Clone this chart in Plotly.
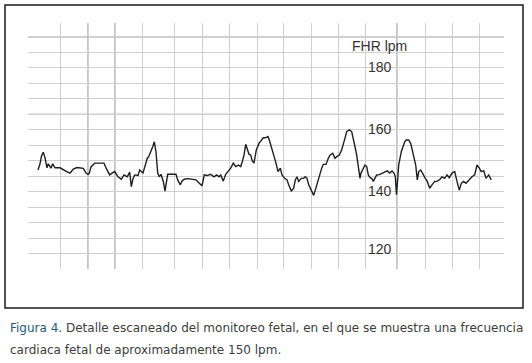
import plotly.graph_objects as go

# Fetal heart rate strip (time in s along the strip, FHR in bpm)
time_s = [38, 40, 41.5, 43.3, 45, 47, 48.3, 51, 52.7, 55, 60, 63.3, 66.7, 70, 73.3, 77, 83.3, 86, 88, 89.3,
          91, 94.7, 99, 104, 106.3, 109.7, 112, 114.7, 118, 121.3, 124, 127.3, 129.7, 131.3, 133, 134.7, 138, 139.7,
          143, 145.3, 147.3, 148.7, 151, 152.7, 154.3, 156, 157.7, 159.3, 161, 163.3, 165, 166.7, 167.7, 172, 176,
          177.7, 180.3, 182, 184.3, 188, 192.7, 196, 199.3, 202, 204.3, 207.3, 210.7, 214, 216.7, 219, 220.7, 223.3,
          225.7, 228, 230.7, 233.3, 235.7, 238.3, 240.7, 242.3, 244, 245.7, 247.3, 249, 250.7, 252.3, 254, 256.3,
          259, 261.3, 263.3, 265.3, 268, 269.3, 271.3, 273.7, 276, 278, 280.3, 282, 284.7, 287, 288.7, 291.3, 293.7,
          295.3, 297, 298.7, 301.3, 303.7, 305.3, 307, 308.7, 310.3, 312, 313.7, 315.3, 317, 319.3, 321.7, 323.3,
          326, 328.3, 330, 332.7, 335, 336.7, 339.3, 341.7, 343.3, 345, 346.7, 349.3, 351.7, 353.3, 355, 356.7,
          358.3, 360, 361, 362.7, 365, 366.7, 368.3, 370, 371.7, 373.3, 375, 376.7, 379.3, 382, 384.7, 387.3, 389.7,
          392, 394, 395.3, 396.5, 397.2, 398, 398.7, 399.7, 401.3, 403, 404.7, 406.3, 408.7, 410.7, 412.3, 414,
          415.7, 417.3, 418.7, 420.7, 423, 425.3, 427.3, 429.7, 432, 434.7, 437.3, 440, 442, 444.7, 447, 449.3, 452,
          454.7, 457, 459.3, 461.3, 463.7, 466, 468.7, 472, 474.7, 477, 479.3, 481.3, 483.7, 486, 488.7, 491.3]
fhr_bpm = [147, 149, 151.5, 152.7, 151, 147.7, 149, 147.6, 149, 147.7, 147.7, 147, 146.5, 146, 147.3, 147.8, 147.5,
           146, 145.6, 146, 148, 149.2, 149.3, 149.2, 147.5, 145.4, 146, 146.5, 144.8, 144, 145.4, 144.8, 146.3,
           141.6, 144.2, 145.4, 145.2, 147, 146, 148.6, 150.8, 151.3, 152.9, 154.5, 156.1, 152.9, 146, 144.8, 145.6,
           143.3, 140.2, 143.3, 145.6, 145.6, 145.6, 143.8, 142.2, 143.4, 144, 144.2, 144, 143.8, 142.7, 141.9,
           145.4, 145.2, 145.6, 144.8, 145.4, 144.8, 145.4, 143.4, 145.6, 146.5, 147.6, 149.2, 148.1, 148.6, 148.1,
           149.7, 151.8, 155.3, 153.8, 152.1, 151.8, 149.9, 149.2, 153.5, 155.6, 156.7, 157.4, 157.4, 157.8, 156.7,
           154, 151.8, 149.2, 146.5, 147.6, 145.4, 144.3, 143.8, 142.2, 140.2, 141.1, 143.8, 144.8, 143.3, 144.3,
           144.3, 144.8, 144.3, 142.2, 141.1, 140, 138.8, 140.5, 142.3, 145.4, 147.6, 148.8, 148.8, 150.8, 151.8,
           152.4, 150.8, 151.3, 151.8, 153.5, 155.1, 157.3, 159.4, 160, 159.4, 157.3, 154.5, 151.8, 148.1, 144.3,
           146, 147, 148.6, 148.1, 145.4, 144.5, 144.3, 143.3, 144.5, 145.4, 145.5, 146, 146.5, 146.7, 146, 146.7,
           146, 144.8, 139, 141, 145.4, 148.6, 150.8, 152.9, 154.5, 156.1, 156.7, 156.7, 155.6, 153.5, 150.8, 148.6,
           143.8, 146.5, 147, 145.4, 144.3, 143.3, 141.1, 142.2, 143.3, 143.4, 144, 144.8, 144.3, 145.4, 144.5, 146,
           146.5, 143.3, 140.5, 142.7, 143.3, 142.7, 143.8, 144.8, 145.4, 148.6, 147.6, 146.5, 146.8, 144.3, 145.4,
           143.8]

# Grid of the monitor paper
h_grid_bpm = [115, 120, 125, 130, 135, 140, 145, 150, 155, 160, 165, 170, 175, 180, 185, 190]
h_grid_dark = [165, 190]
v_grid_s = [60, 88, 115, 142, 174, 202, 229, 257, 283, 311, 338, 365, 397, 425, 452, 479]
v_grid_dark = [88, 115, 397]
scale_labels = [180, 160, 140, 120]
axis_title = "FHR lpm"
caption_bold = "Figura 4"
caption_line1 = ". Detalle escaneado del monitoreo fetal, en el que se muestra una frecuencia"
caption_line2 = "cardiaca fetal de aproximadamente 150 lpm."

fig = go.Figure()
fig.add_trace(go.Scatter(x=time_s, y=fhr_bpm, mode="lines",
                         line=dict(color="#1e1e1e", width=1.4), hoverinfo="skip"))

shapes = []
for v in v_grid_dark:
    shapes.append(dict(type="line", xref="x", yref="paper", x0=v, x1=v, y0=0, y1=1,
                       line=dict(color="#8c8c8c", width=1), layer="below"))
for h in h_grid_dark:
    shapes.append(dict(type="line", xref="paper", yref="y", x0=0, x1=1, y0=h, y1=h,
                       line=dict(color="#8c8c8c", width=1), layer="below"))
# outer frame
shapes.append(dict(type="rect", xref="paper", yref="paper", x0=-0.0483, x1=1.0399, y0=-0.1585, y1=1.0732,
                   line=dict(color="#1a1a1a", width=1.5), fillcolor="rgba(0,0,0,0)", layer="above"))

annotations = [dict(x=379, y=187.1, xref="x", yref="y", text=axis_title, showarrow=False,
                    font=dict(family="Liberation Sans, Arial", size=14, color="#333333"))]
for v in scale_labels:
    annotations.append(dict(x=380, y=v, xref="x", yref="y", text=str(v), showarrow=False,
                            yshift=5 if v == 120 else 1,
                            font=dict(family="Liberation Sans, Arial", size=14, color="#333333")))
annotations.append(dict(x=-0.042, y=-0.2398, xref="paper", yref="paper", xanchor="left", yanchor="middle",
                        showarrow=False,
                        text="<span style='color:#1f5a78'>" + caption_bold + "</span>" + caption_line1,
                        font=dict(family="DejaVu Sans", size=12, color="#3c3c3c")))
annotations.append(dict(x=-0.042, y=-0.329, xref="paper", yref="paper", xanchor="left", yanchor="middle",
                        showarrow=False, text=caption_line2,
                        font=dict(family="DejaVu Sans", size=12, color="#3c3c3c")))

fig.update_layout(
    width=532, height=363,
    margin=dict(l=28, r=28, t=23, b=94),
    paper_bgcolor="white", plot_bgcolor="white",
    showlegend=False,
    shapes=shapes, annotations=annotations,
    xaxis=dict(range=[28, 504], tickvals=v_grid_s, showticklabels=False, ticks="",
               showgrid=True, gridcolor="#cfcfcf", gridwidth=1, zeroline=False, showline=False, fixedrange=True),
    yaxis=dict(range=[115, 194.5], tickvals=h_grid_bpm, showticklabels=False, ticks="",
               showgrid=True, gridcolor="#cfcfcf", gridwidth=1, zeroline=False, showline=False, fixedrange=True),
)

fig.write_html("out.html", config={"displayModeBar": False},
               post_script="document.body.style.margin='0px';document.body.style.padding='0px';")
